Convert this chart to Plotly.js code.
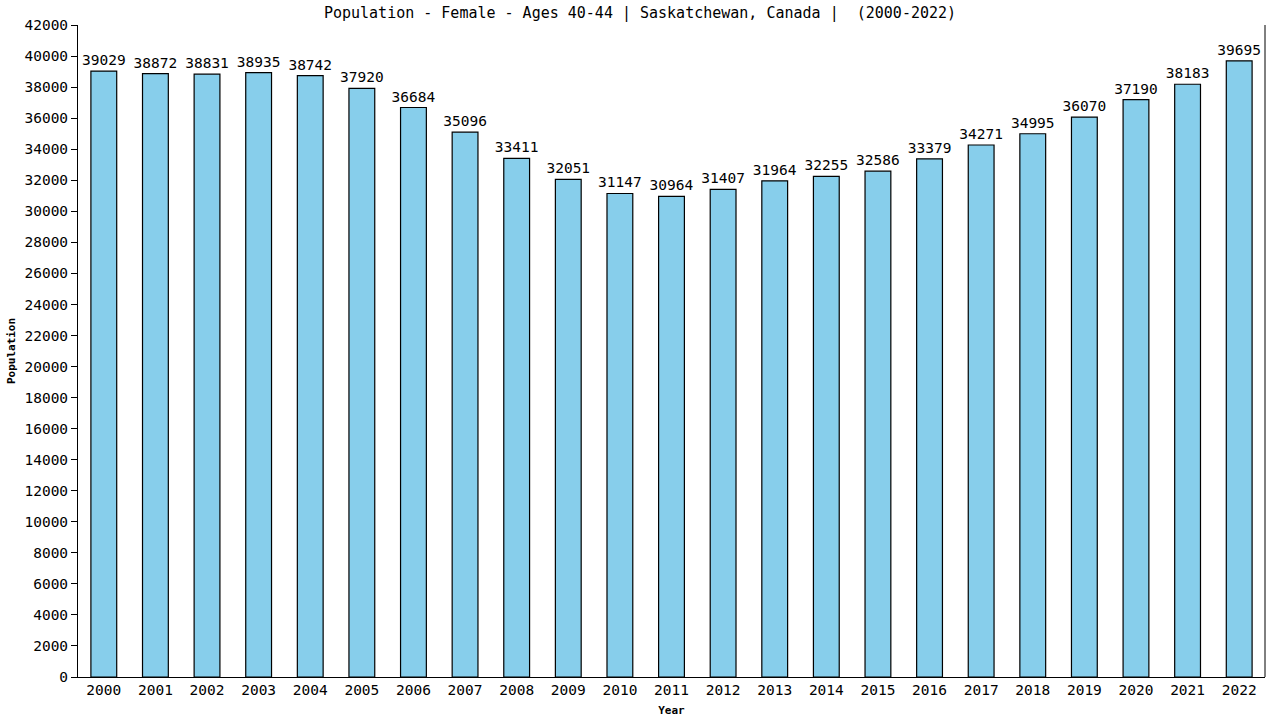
<!DOCTYPE html>
<html>
<head>
<meta charset="utf-8">
<script src="https://cdn.plot.ly/plotly-3.0.1.min.js"></script>
<style>
  html, body { margin: 0; padding: 0; background: #fff; }
  #plot { width: 1280px; height: 720px; }
</style>
</head>
<body>
<div id="plot"></div>
<script>
// datos
const years = ['2000', '2001', '2002', '2003', '2004', '2005', '2006', '2007', '2008', '2009', '2010', '2011',
               '2012', '2013', '2014', '2015', '2016', '2017', '2018', '2019', '2020', '2021', '2022'];
const population = [39029, 38872, 38831, 38935, 38742, 37920, 36684, 35096, 33411, 32051, 31147, 30964,
                    31407, 31964, 32255, 32586, 33379, 34271, 34995, 36070, 37190, 38183, 39695];
const yTicks = [];
for (let v = 0; v <= 42000; v += 2000) yTicks.push(v);

const monoFont = 'DejaVu Sans Mono, monospace';

const bars = {
  type: 'bar',
  x: years,
  y: population,
  width: 0.5,
  marker: { color: '#87ceeb', line: { color: '#000', width: 1.2 } },
  text: population.map(String),
  textposition: 'outside',
  constraintext: 'none',
  cliponaxis: false,
  textfont: { family: monoFont, size: 14.5, color: '#000' },
  hoverinfo: 'none'
};

const layout = {
  width: 1280,
  height: 720,
  margin: { l: 78, r: 15, t: 25, b: 43 },
  paper_bgcolor: '#fff',
  plot_bgcolor: '#fff',
  showlegend: false,
  title: {
    text: 'Population - Female - Ages 40-44 | Saskatchewan, Canada |  (2000-2022)',
    font: { family: monoFont, size: 15, color: '#000' },
    x: 0.5, xanchor: 'center', y: 0.99, yanchor: 'top'
  },
  xaxis: {
    type: 'category',
    range: [-0.5, 22.5],
    showgrid: false,
    showline: true, linecolor: '#000', linewidth: 1,
    ticks: '', ticklen: 0,
    tickfont: { family: monoFont, size: 14.5, color: '#000' },
    title: { text: '<b>Year</b>', font: { family: monoFont, size: 11, color: '#000' }, standoff: 8 }
  },
  yaxis: {
    range: [0, 42000],
    tickvals: yTicks,
    ticktext: yTicks.map(String),
    showgrid: false,
    zeroline: false,
    showline: true, linecolor: '#000', linewidth: 1,
    ticks: 'outside', ticklen: 6, tickcolor: '#000',
    tickfont: { family: monoFont, size: 14.5, color: '#000' },
    title: { text: '<b>Population</b>', font: { family: monoFont, size: 11, color: '#000' }, standoff: 6 }
  },
  shapes: [{
    type: 'line', xref: 'paper', yref: 'paper',
    x0: 1, x1: 1, y0: 0, y1: 1,
    line: { color: '#000', width: 1 }
  }],
  bargap: 0.5
};

Plotly.newPlot('plot', [bars], layout, { staticPlot: true, displayModeBar: false });
</script>
</body>
</html>
